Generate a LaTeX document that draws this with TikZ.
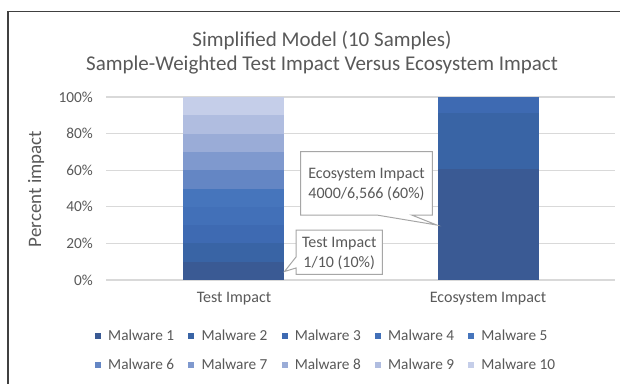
\documentclass[tikz,border=0pt]{standalone}
\usepackage{fontspec}
\setmainfont{Carlito}
\definecolor{txt}{RGB}{89,89,89}
\definecolor{gridc}{RGB}{217,217,217}
\definecolor{callc}{RGB}{166,166,166}
\definecolor{framec}{RGB}{64,64,64}
\definecolor{mw1}{RGB}{58,90,148}
\definecolor{mw2}{RGB}{57,100,165}
\definecolor{mw3}{RGB}{62,106,178}
\definecolor{mw4}{RGB}{66,112,184}
\definecolor{mw5}{RGB}{70,117,188}
\definecolor{mw6}{RGB}{100,134,196}
\definecolor{mw7}{RGB}{127,153,206}
\definecolor{mw8}{RGB}{154,172,215}
\definecolor{mw9}{RGB}{176,189,224}
\definecolor{mw10}{RGB}{197,206,233}
\begin{document}
\begin{tikzpicture}[x=1pt,y=-1pt,
  txtstyle/.style={text=txt,inner sep=0pt,font=\fontsize{15.3}{18}\selectfont},
  cattext/.style={text=txt,inner sep=0pt,font=\fontsize{16}{19}\selectfont},
  axtitle/.style={text=txt,inner sep=0pt,font=\fontsize{19}{22}\selectfont},
  titlestyle/.style={text=txt,inner sep=0pt,font=\fontsize{21}{24}\selectfont},
  gridline/.style={draw=gridc,line width=1.2pt},
  callout/.style={draw=callc,fill=white,line width=1pt},
  legsq/.style={minimum size=6pt,inner sep=0pt,anchor=center}]
\useasboundingbox (0,0) rectangle (620,383);
\clip (0,0) rectangle (620,383);
\fill[white] (0,0) rectangle (620,383);
% chart frame (extends past the right and bottom edges)
\draw[framec,line width=1.5pt] (8,11.5) rectangle (660,410);

% titles
\node[titlestyle] (t1) at (322,41) {Simplified Model (10 Samples)};
\node[titlestyle] (t2) at (322,65) {Sample-Weighted Test Impact Versus Ecosystem Impact};

% horizontal grid and value axis labels
\foreach \p/\lab in {0/0\%,20/20\%,40/40\%,60/60\%,80/80\%,100/100\%}{
  \draw[gridline] (106,280-1.83*\p) -- (615,280-1.83*\p);
  \node[txtstyle,anchor=east] (yl\p) at (93,280-1.83*\p) {\lab};
}
\node[axtitle,rotate=90] (ytitle) at (36,189) {Percent impact};

% stacked bar: test impact (ten equal parts)
\foreach \i in {1,...,10}{
  \fill[mw\i] (183.3,{280-18.3*(\i-1)}) rectangle (284.3,{280-18.3*\i});
}
% stacked bar: ecosystem impact (4000, 2000, 566 of 6,566)
\fill[mw1] (437.7,280) rectangle (539,{280-1.83*60.92});
\fill[mw2] (437.7,{280-1.83*60.92}) rectangle (539,{280-1.83*91.38});
\fill[mw3] (437.7,{280-1.83*91.38}) rectangle (539,97);

% category labels
\node[cattext] (c1) at (234,299) {Test Impact};
\node[cattext] (c2) at (488,299) {Ecosystem Impact};

% data callouts
\coordinate (ecotip) at (436.7,225);
\draw[callout] (300.7,151.7) -- (432.3,151.7) -- (432.3,215) -- (411.7,215)
  -- (ecotip) -- (376.7,215) -- (300.7,215) -- cycle;
\node[cattext,align=center] (ecolab) at (366.5,184.5)
  {Ecosystem Impact\\[1pt]4000/6,566 (60\%)};
\coordinate (testtip) at (284.5,271.5);
\draw[callout] (296,230) -- (382.3,230) -- (382.3,274.3) -- (296,274.3)
  -- (296,268) -- (testtip) -- (296,257) -- cycle;
\node[cattext,align=center] (testlab) at (339.2,253)
  {Test Impact\\[1pt]1/10 (10\%)};

% legend
\foreach \i in {1,...,5}{
  \pgfmathsetmacro{\xx}{95+93.3*(\i-1)}
  \node[legsq,fill=mw\i] (lsq\i) at (\xx+3,336) {};
  \node[txtstyle,anchor=west] (ltx\i) at (\xx+13,335) {Malware \i};
}
\foreach \i in {6,...,10}{
  \pgfmathsetmacro{\xx}{95+93.3*(\i-6)}
  \node[legsq,fill=mw\i] (lsq\i) at (\xx+3,365) {};
  \node[txtstyle,anchor=west] (ltx\i) at (\xx+13,364) {Malware \i};
}
\end{tikzpicture}
\end{document}
